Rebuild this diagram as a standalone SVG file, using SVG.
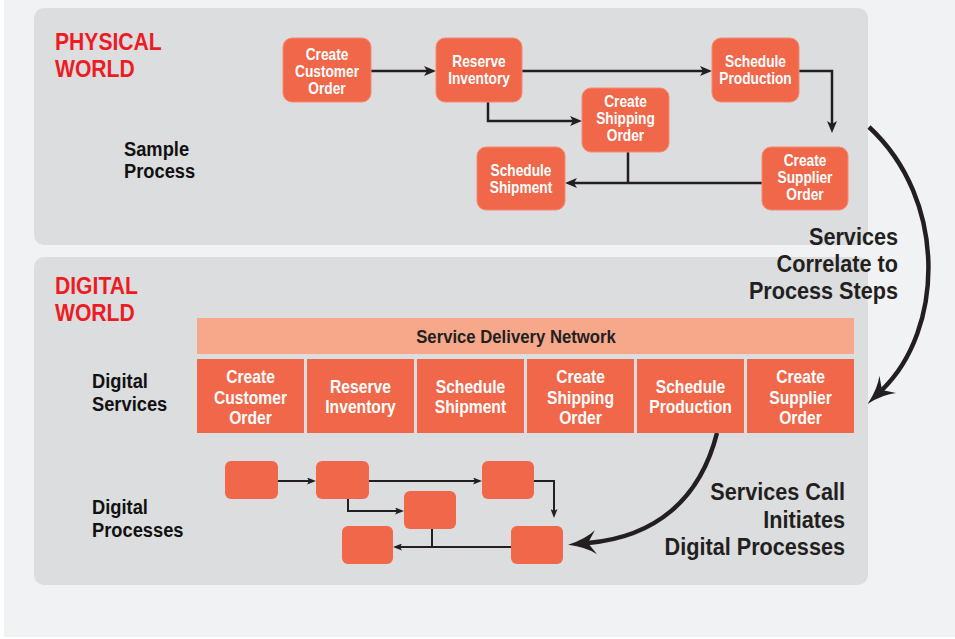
<svg xmlns="http://www.w3.org/2000/svg" width="955" height="639" viewBox="0 0 955 639">
<style>
text{font-family:"Liberation Sans",Arial,sans-serif;font-weight:bold}
.world{font-size:24px;fill:#ed1c24}
.side{font-size:20.8px;fill:#111}
.node rect{fill:#f1674a;stroke:#f58a70;stroke-width:1}
.node text{font-size:15.6px;fill:#fff;text-anchor:middle}
.svc rect{fill:#f1674a}
.svc text{font-size:17.8px;fill:#fff;text-anchor:middle}
.dp rect{fill:#f1674a}
.big{font-size:24.6px;fill:#231f20;text-anchor:end}
.sdn{font-size:19px;fill:#231f20;text-anchor:middle}
.c1{fill:none;stroke:#231f20;stroke-width:2.5}
.c2{fill:none;stroke:#231f20;stroke-width:2}
.c3{fill:none;stroke:#231f20;stroke-width:4.5}
</style>
<defs>
<marker id="ah" viewBox="0 0 12 10" refX="3" refY="5" markerWidth="12" markerHeight="10" markerUnits="userSpaceOnUse" orient="auto">
<path d="M0,0 L12,5 L0,10 L3,5 z" fill="#231f20"/>
</marker>
<marker id="as" viewBox="0 0 9 7" refX="2" refY="3.5" markerWidth="9" markerHeight="7" markerUnits="userSpaceOnUse" orient="auto">
<path d="M0,0 L9,3.5 L0,7 L2,3.5 z" fill="#231f20"/>
</marker>
<marker id="ab" viewBox="0 0 28 24" refX="8" refY="12" markerWidth="28" markerHeight="24" markerUnits="userSpaceOnUse" orient="auto">
<path d="M0,0 Q10,8 28,12 Q10,16 0,24 L8,12 z" fill="#231f20"/>
</marker>
</defs>
<rect x="0" y="0" width="955" height="639" fill="#ffffff"/>
<rect x="4" y="0" width="951" height="637" fill="#f1f2f4"/>
<rect x="34" y="8" width="834" height="237" rx="10" fill="#dcdddf"/>
<rect x="34" y="257" width="834" height="328" rx="10" fill="#dcdddf"/>

<text class="world" transform="translate(55,50) scale(.88,1)">PHYSICAL</text>
<text class="world" transform="translate(55,77) scale(.88,1)">WORLD</text>
<text class="side" transform="translate(124,156) scale(.88,1)">Sample</text>
<text class="side" transform="translate(124,178) scale(.88,1)">Process</text>
<text class="world" transform="translate(55,294) scale(.88,1)">DIGITAL</text>
<text class="world" transform="translate(55,321) scale(.88,1)">WORLD</text>
<text class="side" transform="translate(92,388) scale(.88,1)">Digital</text>
<text class="side" transform="translate(92,411) scale(.88,1)">Services</text>
<text class="side" transform="translate(92,514) scale(.88,1)">Digital</text>
<text class="side" transform="translate(92,537) scale(.88,1)">Processes</text>

<g id="connectors">
<path class="c1" d="M371,71 H427" marker-end="url(#ah)"/>
<path class="c1" d="M522,71 H703" marker-end="url(#ah)"/>
<path class="c1" d="M488,102 V121 H573" marker-end="url(#ah)"/>
<path class="c1" d="M799,71 H832 V124" marker-end="url(#ah)"/>
<path class="c1" d="M762,183 H574" marker-end="url(#ah)"/>
<path class="c1" d="M628,152 V183"/>
<path class="c2" d="M278,481 H309" marker-end="url(#as)"/>
<path class="c2" d="M369,481 H475" marker-end="url(#as)"/>
<path class="c2" d="M348,499 V511 H397" marker-end="url(#as)"/>
<path class="c2" d="M534,481 H554 V511" marker-end="url(#as)"/>
<path class="c2" d="M511,547 H400" marker-end="url(#as)"/>
<path class="c2" d="M432,529 V547"/>
<path class="c3" d="M869,127 C948,200 944,330 882,390" marker-end="url(#ab)"/>
<path class="c3" d="M717,433 C700,500 655,537 588,543" marker-end="url(#ab)"/>
</g>

<g id="n-create-customer-order" class="node"><rect x="283" y="38" width="88" height="64" rx="9"/><text transform="translate(327,60) scale(.88,1)">Create</text><text transform="translate(327,77) scale(.88,1)">Customer</text><text transform="translate(327,94) scale(.88,1)">Order</text></g>
<g id="n-reserve-inventory" class="node"><rect x="436" y="38" width="86" height="64" rx="9"/><text transform="translate(479,67) scale(.88,1)">Reserve</text><text transform="translate(479,84) scale(.88,1)">Inventory</text></g>
<g id="n-schedule-production" class="node"><rect x="712" y="38" width="87" height="64" rx="9"/><text transform="translate(755.5,67) scale(.88,1)">Schedule</text><text transform="translate(755.5,84) scale(.88,1)">Production</text></g>
<g id="n-create-shipping-order" class="node"><rect x="582" y="88" width="87" height="64" rx="9"/><text transform="translate(625.5,107) scale(.88,1)">Create</text><text transform="translate(625.5,124) scale(.88,1)">Shipping</text><text transform="translate(625.5,141) scale(.88,1)">Order</text></g>
<g id="n-schedule-shipment" class="node"><rect x="477" y="147" width="88" height="63" rx="9"/><text transform="translate(521,176) scale(.88,1)">Schedule</text><text transform="translate(521,193) scale(.88,1)">Shipment</text></g>
<g id="n-create-supplier-order" class="node"><rect x="762" y="147" width="86" height="63" rx="9"/><text transform="translate(805,166) scale(.88,1)">Create</text><text transform="translate(805,183) scale(.88,1)">Supplier</text><text transform="translate(805,200) scale(.88,1)">Order</text></g>

<g id="sdn"><rect x="197" y="318" width="657" height="36" fill="#f7a88b"/><text class="sdn" transform="translate(516,343) scale(.88,1)">Service Delivery Network</text></g>

<g id="s-create-customer-order" class="svc"><rect x="197" y="359" width="107" height="74"/><text transform="translate(250.5,383) scale(.88,1)">Create</text><text transform="translate(250.5,404) scale(.88,1)">Customer</text><text transform="translate(250.5,424) scale(.88,1)">Order</text></g>
<g id="s-reserve-inventory" class="svc"><rect x="307" y="359" width="107" height="74"/><text transform="translate(360.5,393) scale(.88,1)">Reserve</text><text transform="translate(360.5,413) scale(.88,1)">Inventory</text></g>
<g id="s-schedule-shipment" class="svc"><rect x="417" y="359" width="107" height="74"/><text transform="translate(470.5,393) scale(.88,1)">Schedule</text><text transform="translate(470.5,413) scale(.88,1)">Shipment</text></g>
<g id="s-create-shipping-order" class="svc"><rect x="527" y="359" width="107" height="74"/><text transform="translate(580.5,383) scale(.88,1)">Create</text><text transform="translate(580.5,404) scale(.88,1)">Shipping</text><text transform="translate(580.5,424) scale(.88,1)">Order</text></g>
<g id="s-schedule-production" class="svc"><rect x="637" y="359" width="107" height="74"/><text transform="translate(690.5,393) scale(.88,1)">Schedule</text><text transform="translate(690.5,413) scale(.88,1)">Production</text></g>
<g id="s-create-supplier-order" class="svc"><rect x="747" y="359" width="107" height="74"/><text transform="translate(800.5,383) scale(.88,1)">Create</text><text transform="translate(800.5,404) scale(.88,1)">Supplier</text><text transform="translate(800.5,424) scale(.88,1)">Order</text></g>

<g id="dp-a" class="dp"><rect x="225" y="461" width="53" height="38" rx="6"/></g>
<g id="dp-b" class="dp"><rect x="316" y="461" width="53" height="38" rx="6"/></g>
<g id="dp-c" class="dp"><rect x="482" y="461" width="52" height="38" rx="6"/></g>
<g id="dp-d" class="dp"><rect x="404" y="491" width="52" height="38" rx="6"/></g>
<g id="dp-e" class="dp"><rect x="342" y="526" width="51" height="38" rx="6"/></g>
<g id="dp-f" class="dp"><rect x="511" y="526" width="52" height="38" rx="6"/></g>

<text class="big" transform="translate(898,245) scale(.88,1)">Services</text>
<text class="big" transform="translate(898,272) scale(.88,1)">Correlate to</text>
<text class="big" transform="translate(898,299) scale(.88,1)">Process Steps</text>
<text class="big" transform="translate(845,500) scale(.88,1)">Services Call</text>
<text class="big" transform="translate(845,528) scale(.88,1)">Initiates</text>
<text class="big" transform="translate(845,555) scale(.88,1)">Digital Processes</text>
</svg>
